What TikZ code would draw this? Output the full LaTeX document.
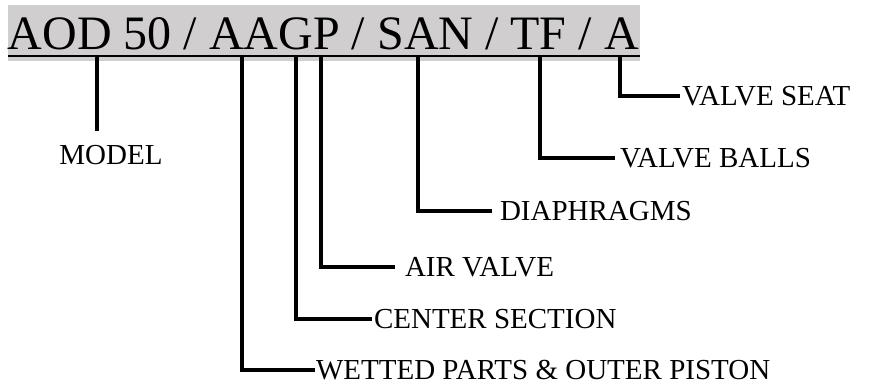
\documentclass[tikz,border=0pt]{standalone}
\usepackage{fontspec}
\setmainfont{Liberation Serif}
\definecolor{hlgray}{RGB}{208,206,207}
\begin{document}
\begin{tikzpicture}[x=1pt,y=1pt,
  lead/.style={line width=3.2pt,line join=miter},
  lbl/.style={inner sep=0pt,outer sep=0pt,anchor=west,font=\fontsize{29}{30}\selectfont},
  ttl/.style={inner sep=0pt,outer sep=0pt,anchor=base west,font=\fontsize{48}{50}\selectfont}]
\useasboundingbox (0,0) rectangle (878,-390);
\fill[hlgray] (8,-5) rectangle (640,-61);
\node[ttl] (title) at (8,-50) {AOD 50 / AAGP / SAN / TF / A};
\draw[line width=2.5pt] (8,-56) -- (640,-56);
% tops of leaders
\coordinate (tm) at (97,-57);
\coordinate (tw) at (242,-57);
\coordinate (tc) at (296,-57);
\coordinate (ta) at (321,-57);
\coordinate (td) at (418,-57);
\coordinate (tb) at (540,-57);
\coordinate (ts) at (620,-57);
% labels
\node[lbl,anchor=base] (model) at (111,-165) {MODEL};
\node[lbl] (wet) at (316,-370) {WETTED PARTS \& OUTER PISTON};
\node[lbl] (cen) at (374,-319) {CENTER SECTION};
\node[lbl] (air) at (405,-267) {AIR VALVE};
\node[lbl] (dia) at (500,-211) {DIAPHRAGMS};
\node[lbl] (bal) at (620,-158) {VALVE BALLS};
\node[lbl] (seat) at (682,-96) {VALVE SEAT};
% leaders
\draw[lead] (tm) -- (tm |- 0,-131);
\draw[lead] (tw) |- ([xshift=-1pt]wet.west);
\draw[lead] (tc) |- ([xshift=-2pt]cen.west);
\draw[lead] (ta) |- ([xshift=-10pt]air.west);
\draw[lead] (td) |- ([xshift=-8pt]dia.west);
\draw[lead] (tb) |- ([xshift=-5pt]bal.west);
\draw[lead] (ts) |- ([xshift=-2pt]seat.west);
\end{tikzpicture}
\end{document}
